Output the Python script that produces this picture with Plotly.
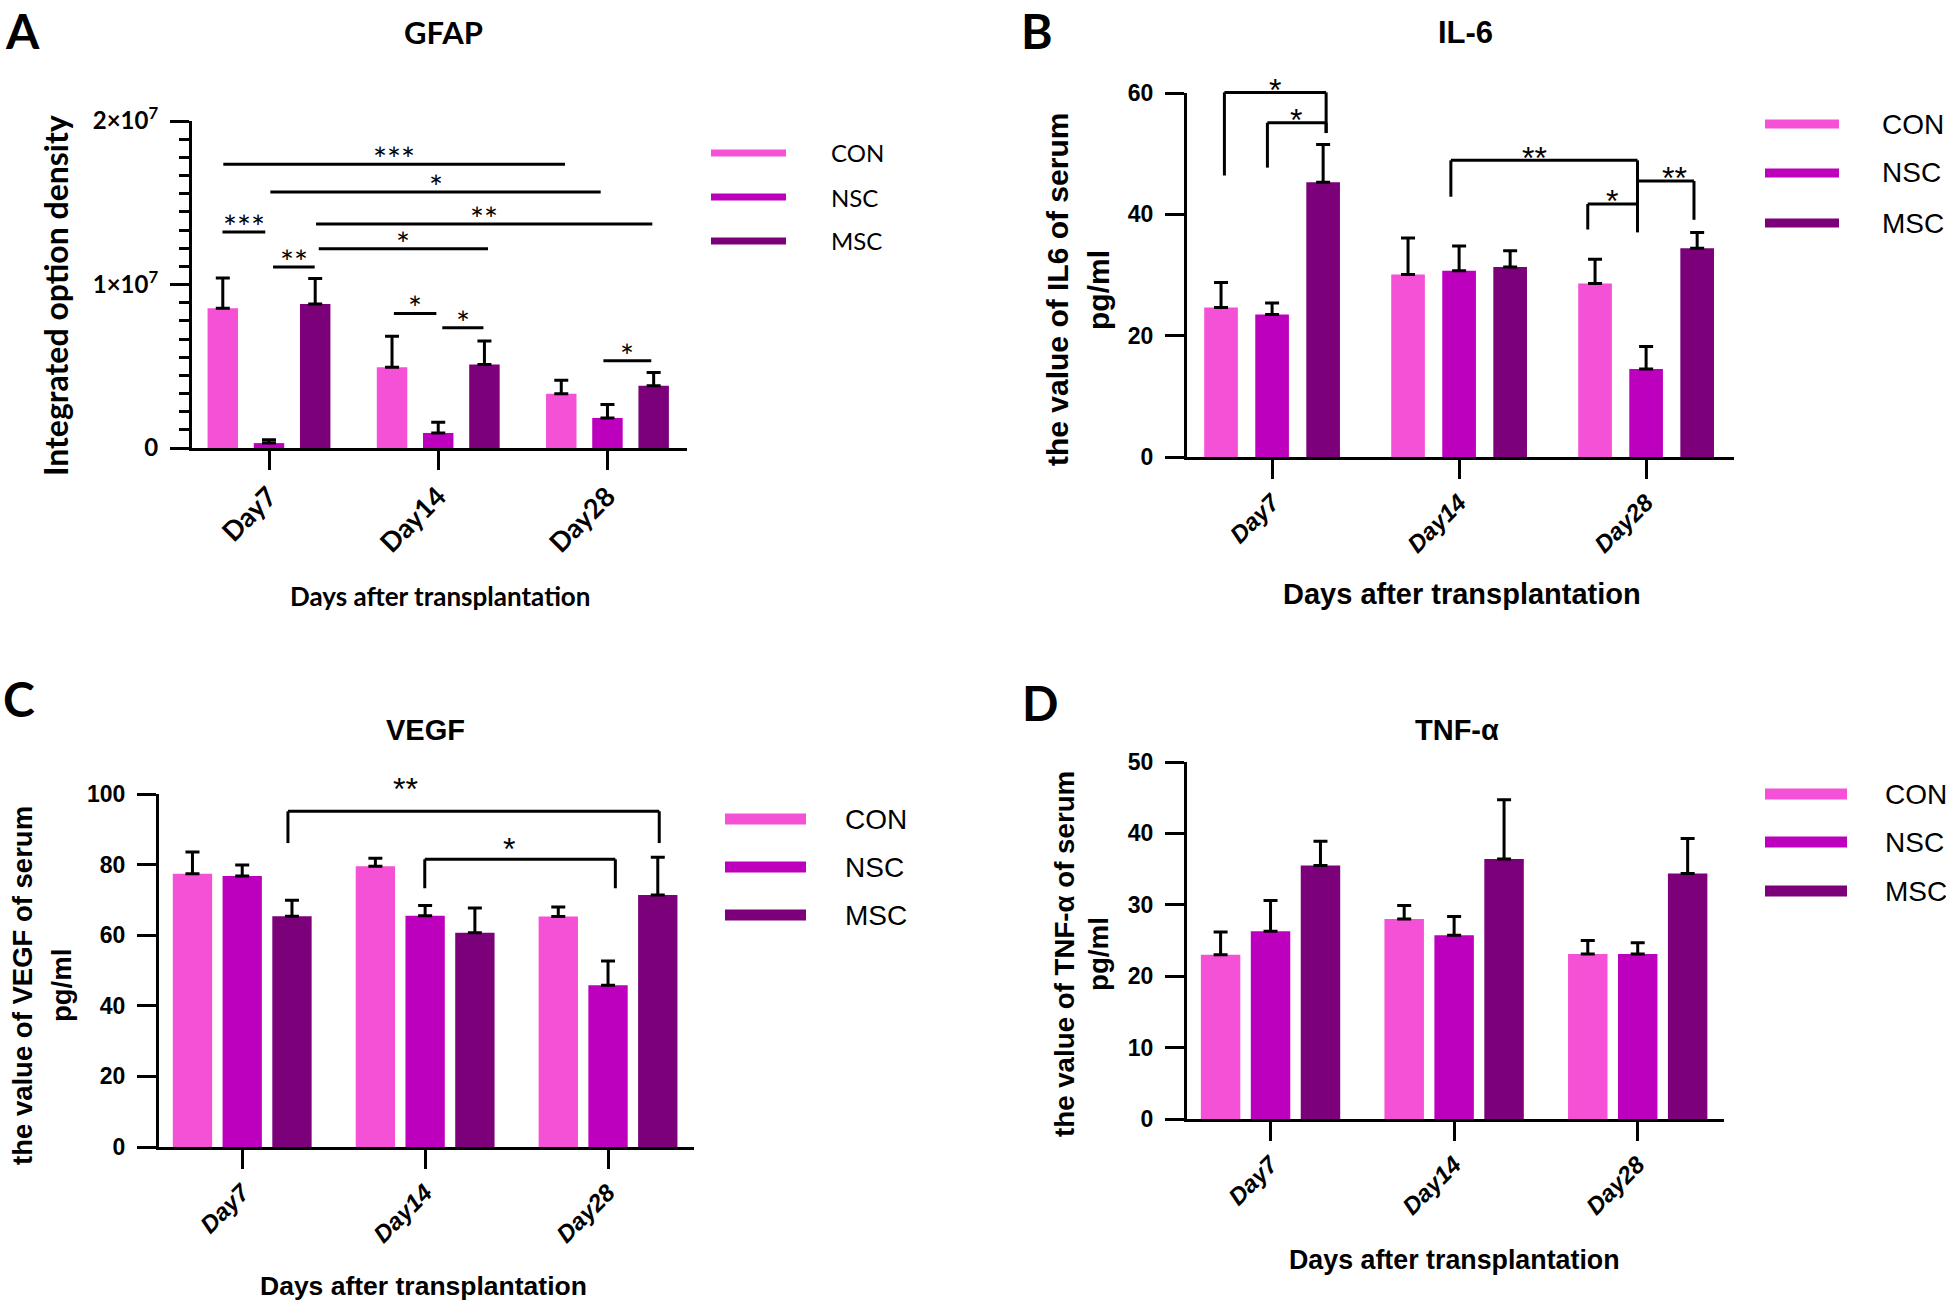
import plotly.graph_objects as go

W, H = 1946, 1306

# ---------------- data ----------------
categories = ["Day7", "Day14", "Day28"]
groups = ["CON", "NSC", "MSC"]
group_colors = ["#F551D6", "#BD00BD", "#7B0079"]

# rows: CON, NSC, MSC ; columns: Day7, Day14, Day28
gfap_mean = [[8.55e6, 4.94e6, 3.32e6], [3.0e5, 9.2e5, 1.84e6], [8.8e6, 5.1e6, 3.8e6]]
gfap_err = [[1.85e6, 1.9e6, 8.2e5], [2.0e5, 6.5e5, 8.2e5], [1.56e6, 1.45e6, 8.2e5]]
il6_mean = [[24.65, 30.1, 28.6], [23.5, 30.7, 14.5], [45.3, 31.3, 34.4]]
il6_err = [[4.1, 6.0, 4.0], [1.9, 4.1, 3.7], [6.2, 2.7, 2.6]]
vegf_mean = [[77.4, 79.5, 65.3], [76.8, 65.5, 45.8], [65.4, 60.7, 71.4]]
vegf_err = [[6.2, 2.3, 2.7], [3.1, 2.9, 6.9], [4.5, 7.0, 10.7]]
tnf_mean = [[23.0, 28.0, 23.1], [26.3, 25.75, 23.1], [35.5, 36.4, 34.4]]
tnf_err = [[3.2, 1.9, 1.9], [4.3, 2.6, 1.6], [3.4, 8.3, 4.9]]

gfap_ticks = [0, 1e7, 2e7]
gfap_ticktext = ["0", "1×10<sup>7</sup>", "2×10<sup>7</sup>"]
il6_ticks = [0, 20, 40, 60]
vegf_ticks = [0, 20, 40, 60, 80, 100]
tnf_ticks = [0, 10, 20, 30, 40, 50]

# significance lines (x from, x to, y, label)
gfap_sig = [
    (-0.270, 1.749, 1.735e7, "***"),
    (0.008, 1.960, 1.566e7, "*"),
    (0.278, 2.265, 1.37e7, "**"),
    (0.294, 1.294, 1.218e7, "*"),
    (-0.275, -0.022, 1.321e7, "***"),
    (0.024, 0.270, 1.107e7, "**"),
    (0.738, 0.989, 0.823e7, "*"),
    (1.024, 1.267, 0.736e7, "*"),
    (1.976, 2.259, 0.533e7, "*"),
]
# brackets (x from, x to, y, left end y, right end y, label, label x, label y)
il6_sig = [
    (-0.255, 0.289, 60.1, 46.4, 53.4, "*", 0.017, 62.0),
    (-0.025, 0.289, 55.1, 47.7, 53.4, "*", 0.13, 57.0),
    (0.956, 1.954, 48.9, 42.9, 37.05, "**", 1.405, 50.8),
    (1.688, 1.954, 41.7, 37.5, 37.05, "*", 1.82, 43.6),
    (1.954, 2.256, 45.5, 45.5, 39.1, "**", 2.15, 47.4),
]
vegf_sig = [
    (0.250, 2.280, 95.1, 86.1, 86.1, "**", 0.894, 104.0),
    (0.998, 2.040, 81.5, 73.3, 73.3, "*", 1.46, 87.0),
]

# ---------------- layout ----------------
LATO = "Lato, 'Open Sans', sans-serif"
ARB = "'Liberation Sans', Arial, sans-serif"
XR = (-0.455, 2.47)

panels = [
    dict(mean=gfap_mean, err=gfap_err, ymax=2e7, ticks=gfap_ticks, ticktext=gfap_ticktext,
         x0=192, x1=687, y0=448, y1=121, slot=0.273, bw=0.18, font=LATO,
         letter="A", letter_xy=(22, 30), title="GFAP", title_xy=(443, 32), title_size=31,
         ytitle=["Integrated option density"], ytitle_x=[55], ytitle_y=296, ytitle_font=LATO, ytitle_size=32,
         xtitle_xy=(440, 596), xtitle_size=26,
         leg_x=(711, 786), leg_y=[153, 197, 241], leg_h=7, leg_tx=829, leg_size=24),
    dict(mean=il6_mean, err=il6_err, ymax=60, ticks=il6_ticks, ticktext=[str(t) for t in il6_ticks],
         x0=1187, x1=1734, y0=457, y1=93, slot=0.273, bw=0.18, font=ARB,
         letter="B", letter_xy=(1037, 30), title="IL-6", title_xy=(1465, 32), title_size=31,
         ytitle=["the value of IL6 of serum", "pg/ml"], ytitle_x=[1057, 1098], ytitle_y=290, ytitle_font=ARB, ytitle_size=30,
         xtitle_xy=(1462, 594), xtitle_size=29,
         leg_x=(1765, 1839), leg_y=[124, 173, 223], leg_h=9, leg_tx=1880, leg_size=28),
    dict(mean=vegf_mean, err=vegf_err, ymax=100, ticks=vegf_ticks, ticktext=[str(t) for t in vegf_ticks],
         x0=159, x1=694, y0=1147, y1=794, slot=0.272, bw=0.215, font=ARB,
         letter="C", letter_xy=(19, 699), title="VEGF", title_xy=(425, 730), title_size=29,
         ytitle=["the value of VEGF of serum", "pg/ml"], ytitle_x=[22, 61], ytitle_y=986, ytitle_font=ARB, ytitle_size=27.5,
         xtitle_xy=(423, 1286), xtitle_size=26.5,
         leg_x=(725, 806), leg_y=[819, 867, 915], leg_h=11, leg_tx=843, leg_size=28),
    dict(mean=tnf_mean, err=tnf_err, ymax=50, ticks=tnf_ticks, ticktext=[str(t) for t in tnf_ticks],
         x0=1187, x1=1724, y0=1119, y1=762, slot=0.272, bw=0.215, font=ARB,
         letter="D", letter_xy=(1040, 702), title="TNF-α", title_xy=(1457, 730), title_size=29,
         ytitle=["the value of TNF-α of serum", "pg/ml"], ytitle_x=[1064, 1098], ytitle_y=954, ytitle_font=ARB, ytitle_size=27.7,
         xtitle_xy=(1454, 1260), xtitle_size=26.8,
         leg_x=(1765, 1847), leg_y=[794, 842, 891], leg_h=11, leg_tx=1883, leg_size=28),
]


def px(x):
    return x / W


def py(y):
    return 1 - y / H


def dx(p, xv):
    return p["x0"] + (xv - XR[0]) / (XR[1] - XR[0]) * (p["x1"] - p["x0"])


def dy(p, yv):
    return p["y0"] - yv / p["ymax"] * (p["y0"] - p["y1"])


def text(t, x, y, font, xanchor="center", yanchor="middle", angle=0):
    return dict(text=t, x=px(x), y=py(y), xref="paper", yref="paper", showarrow=False,
                xanchor=xanchor, yanchor=yanchor, textangle=angle, font=font)


fig = go.Figure()
shapes = []
annotations = []
layout = {}

for i, p in enumerate(panels):
    sfx = "" if i == 0 else str(i + 1)
    xa, ya = "x" + sfx, "y" + sfx
    for g in range(3):
        fig.add_trace(go.Bar(
            x=categories, y=p["mean"][g], name=groups[g],
            marker=dict(color=group_colors[g], line=dict(width=0)),
            width=p["bw"], offset=-p["bw"] / 2 + (g - 1) * p["slot"],
            error_y=dict(type="data", array=p["err"][g], arrayminus=[0] * 3, symmetric=False,
                         color="black", thickness=3, width=7),
            xaxis=xa, yaxis=ya, showlegend=False))

    if i == 0:
        tickfont_x = dict(family=LATO, size=27, color="black", weight="bold")
        tickfont_y = dict(family=LATO, size=24, color="black", weight="bold")
    else:
        tickfont_x = dict(family=ARB, size=24, color="black", weight="bold", style="italic")
        tickfont_y = dict(family=ARB, size=23, color="black", weight="bold")
    layout["xaxis" + sfx] = dict(
        domain=[px(p["x0"]), px(p["x1"])], anchor=ya, type="category", automargin=False,
        range=list(XR), showline=True, linewidth=3, linecolor="black",
        ticks="outside", ticklen=19, tickwidth=3, tickcolor="black",
        tickangle=-45, tickfont=tickfont_x, showgrid=False, zeroline=False)
    yax = dict(
        domain=[py(p["y0"]), py(p["y1"])], anchor=xa, range=[0, p["ymax"]], automargin=False,
        showline=True, linewidth=3, linecolor="black",
        ticks="outside", ticklen=19, tickwidth=3, tickcolor="black",
        tickvals=p["ticks"], ticktext=p["ticktext"], tickfont=tickfont_y,
        ticklabelstandoff=7, showgrid=False, zeroline=False)
    if i == 0:
        yax["minor"] = dict(ticks="outside", ticklen=10, tickwidth=3, tickcolor="black",
                            dtick=p["ymax"] / 18, tick0=0, showgrid=False)
    layout["yaxis" + sfx] = yax

    annotations.append(text(p["letter"], *p["letter_xy"], dict(family=LATO, size=48, color="black", weight="bold")))
    annotations.append(text(p["title"], *p["title_xy"], dict(family=p["font"], size=p["title_size"], color="black", weight="bold")))
    annotations.append(text("Days after transplantation", *p["xtitle_xy"],
                            dict(family=p["font"], size=p["xtitle_size"], color="black", weight="bold")))
    for txt, tx in zip(p["ytitle"], p["ytitle_x"]):
        annotations.append(text(txt, tx, p["ytitle_y"],
                                dict(family=p["ytitle_font"], size=p["ytitle_size"], color="black", weight="bold"),
                                angle=-90))
    for g in range(3):
        yc = p["leg_y"][g]
        shapes.append(dict(type="rect", xref="paper", yref="paper",
                           x0=px(p["leg_x"][0]), x1=px(p["leg_x"][1]),
                           y0=py(yc + p["leg_h"] / 2), y1=py(yc - p["leg_h"] / 2),
                           fillcolor=group_colors[g], line=dict(width=0)))
        annotations.append(text(groups[g], p["leg_tx"], yc,
                                dict(family=p["font"], size=p["leg_size"], color="black"), xanchor="left"))

LINE = dict(color="black", width=3)

pA = panels[0]
for x0, x1, yv, lab in gfap_sig:
    X0, X1, Y = dx(pA, x0), dx(pA, x1), dy(pA, yv)
    shapes.append(dict(type="line", xref="paper", yref="paper", x0=px(X0), x1=px(X1), y0=py(Y), y1=py(Y), line=LINE))
    annotations.append(text(lab, (X0 + X1) / 2, Y - 6, dict(family=LATO, size=33, color="black")))

for p, sig in ((panels[1], il6_sig), (panels[2], vegf_sig)):
    for x0, x1, yv, yl, yr, lab, lx, ly in sig:
        X0, X1, Y, YL, YR = dx(p, x0), dx(p, x1), dy(p, yv), dy(p, yl), dy(p, yr)
        for a, b, c, d in ((X0, YL, X0, Y), (X0, Y, X1, Y), (X1, Y, X1, YR)):
            shapes.append(dict(type="line", xref="paper", yref="paper", x0=px(a), y0=py(b), x1=px(c), y1=py(d), line=LINE))
        annotations.append(text(lab, dx(p, lx), dy(p, ly) + 9, dict(family=ARB, size=32, color="black")))

fig.update_layout(
    width=W, height=H, margin=dict(l=0, r=0, t=0, b=0, pad=0, autoexpand=False),
    paper_bgcolor="white", plot_bgcolor="white",
    barmode="group", showlegend=False,
    shapes=shapes, annotations=annotations, **layout)

fig.write_html("out.html", config={"displayModeBar": False},
               post_script="document.body.style.margin='0';document.body.style.overflow='hidden';")
